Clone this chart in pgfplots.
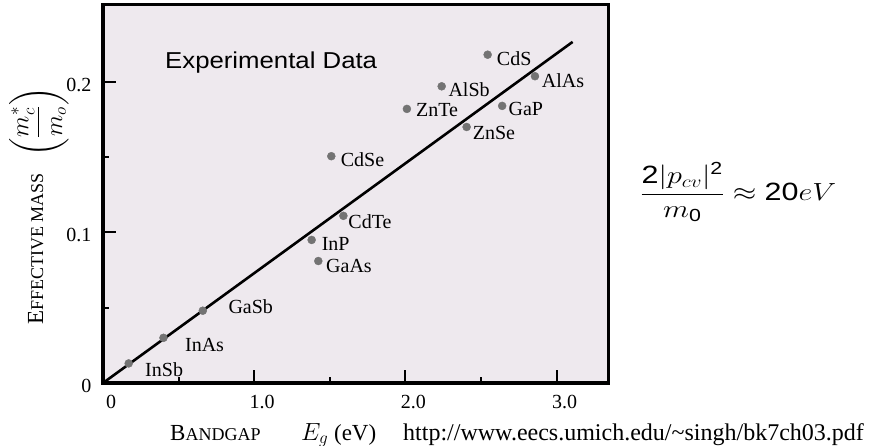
\documentclass[border=0pt]{standalone}
\usepackage{amsmath}
\usepackage{fontspec}
\setmainfont{Liberation Serif}
\newfontfamily\arial{Liberation Sans}
\usepackage{pgfplots}
\pgfplotsset{compat=1.18}
\definecolor{bgcol}{HTML}{EEE9EE}
\definecolor{ptcol}{HTML}{737373}
\newcommand{\lbl}{\fontsize{20bp}{24bp}\selectfont}
\begin{document}
\begin{tikzpicture}
\useasboundingbox (0,0) rectangle (870bp,446bp);
\begin{axis}[
  at={(103bp,63bp)}, anchor=south west,
  scale only axis, width=505bp, height=378bp,
  xmin=0, xmax=3.34, ymin=0, ymax=0.251,
  axis background/.style={fill=bgcol},
  axis line style={line width=3bp},
  tick pos=left, tick align=inside,
  major tick length=13bp, minor tick length=6bp,
  tick style={line width=2bp, black},
  xtick={0,1,2,3}, xticklabels={0,1.0,2.0,3.0},
  minor xtick={0.5,1.5,2.5},
  ytick={0,0.1,0.2}, yticklabels={0,0.1,0.2},
  minor ytick={0.05,0.15},
  /pgf/number format/assume math mode=true,
  ticklabel style={font=\lbl},
  xticklabel style={yshift=-9bp, xshift=8bp},
  yticklabel style={xshift=-8bp, yshift=-3bp},
  clip=false,
]
\addplot[black, line width=2.6bp] coordinates {(0,0) (3.106,0.2265)};
\addplot[only marks, mark=*, mark size=4bp, color=ptcol] coordinates {
 (0.17,0.013) (0.40,0.030) (0.66,0.048) (1.38,0.095) (1.424,0.081)
 (1.59,0.111) (1.51,0.1506) (2.01,0.182) (2.24,0.197) (2.544,0.218)
 (2.857,0.2037) (2.64,0.184) (2.405,0.170)};
\node[anchor=base west, font=\lbl, inner sep=0] at (axis cs:0.278,0.0046) {InSb};
\node[anchor=base west, font=\lbl, inner sep=0] at (axis cs:0.542,0.0208) {InAs};
\node[anchor=base west, font=\lbl, inner sep=0] at (axis cs:0.829,0.0463) {GaSb};
\node[anchor=base west, font=\lbl, inner sep=0] at (axis cs:1.446,0.0883) {InP};
\node[anchor=base west, font=\lbl, inner sep=0] at (axis cs:1.475,0.0732) {GaAs};
\node[anchor=base west, font=\lbl, inner sep=0] at (axis cs:1.622,0.1027) {CdTe};
\node[anchor=base west, font=\lbl, inner sep=0] at (axis cs:1.572,0.1435) {CdSe};
\node[anchor=base west, font=\lbl, inner sep=0] at (axis cs:2.07,0.177) {ZnTe};
\node[anchor=base west, font=\lbl, inner sep=0] at (axis cs:2.284,0.190) {AlSb};
\node[anchor=base west, font=\lbl, inner sep=0] at (axis cs:2.604,0.211) {CdS};
\node[anchor=base west, font=\lbl, inner sep=0] at (axis cs:2.901,0.1962) {AlAs};
\node[anchor=base west, font=\lbl, inner sep=0] at (axis cs:2.681,0.1778) {GaP};
\node[anchor=base west, font=\lbl, inner sep=0] at (axis cs:2.445,0.1617) {ZnSe};
\node[anchor=base west, inner sep=0, xscale=1.12, font=\arial\fontsize{23bp}{27bp}\selectfont] at (axis cs:0.41,0.2088) {Experimental Data};
\end{axis}
% y label
\node[rotate=90, anchor=base west, inner sep=0] at (43bp,121bp)
  {{\fontsize{23bp}{27bp}\selectfont E}{\fontsize{18bp}{22bp}\selectfont FFECTIVE MASS}};
\node[rotate=90, anchor=north, inner sep=0, font=\fontsize{23bp}{27bp}\selectfont] at (9bp,324bp)
  {$\displaystyle\left(\frac{m_c^{*}}{m_o}\right)$};
% x label
\node[anchor=base west, inner sep=0] at (170bp,6bp)
  {{\fontsize{23bp}{27bp}\selectfont B}{\fontsize{18bp}{22bp}\selectfont ANDGAP}};
\node[anchor=base west, inner sep=0, font=\fontsize{23bp}{27bp}\selectfont] at (301bp,6bp)
  {$E_g$ (eV)};
\node[anchor=base west, inner sep=0, font=\fontsize{24bp}{28bp}\selectfont] at (403bp,6bp)
  {http://www.eecs.umich.edu/\char`\~singh/bk7ch03.pdf};
% formula
\node[anchor=west, inner sep=0, xscale=1.22, font=\fontsize{25bp}{29bp}\selectfont] at (640bp,254bp)
  {$\displaystyle\frac{\text{\arial 2}|p_{cv}|^{\text{\arial 2}}}{m_{\text{\arial 0}}}\approx\text{\arial 20}eV$};
\end{tikzpicture}
\end{document}
